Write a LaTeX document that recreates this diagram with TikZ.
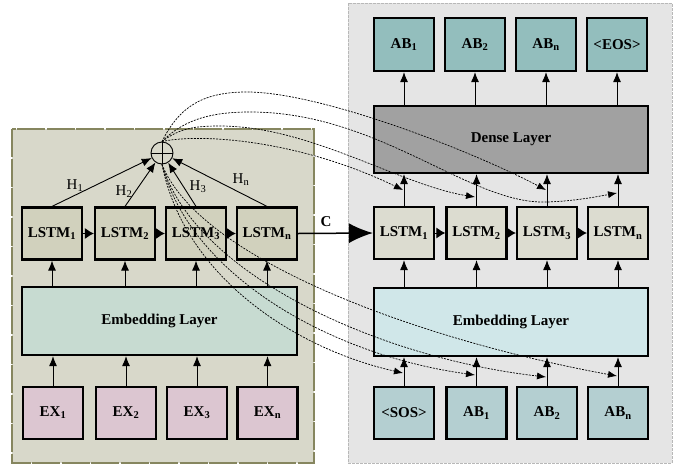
\documentclass[tikz,border=0pt]{standalone}
\usepackage{fontspec}
\setmainfont{Liberation Serif}
\usetikzlibrary{arrows.meta}
\definecolor{leftbg}{HTML}{D8D8CA}
\definecolor{leftborder}{HTML}{86865F}
\definecolor{lstmL}{HTML}{D1D1BD}
\definecolor{embL}{HTML}{C7DBD1}
\definecolor{exfill}{HTML}{DCC6D1}
\definecolor{rightbg}{HTML}{E5E5E5}
\definecolor{rightborder}{HTML}{B8B8B8}
\definecolor{abtop}{HTML}{93BEBD}
\definecolor{densefill}{HTML}{A1A1A1}
\definecolor{lstmR}{HTML}{DCDCD0}
\definecolor{embR}{HTML}{D0E7E9}
\definecolor{bottomR}{HTML}{B4CFD1}
\begin{document}
\begin{tikzpicture}[x=1pt,y=-1pt,
  box/.style={draw=black, line width=2.2pt, minimum width=60pt, minimum height=52pt,
    inner sep=0pt, font=\fontsize{15}{17}\selectfont\bfseries},
  wide/.style={box, minimum width=274pt, minimum height=68pt},
  arr/.style={line width=0.9pt, -{Latex[length=10pt,width=8pt]}},
  chainarr/.style={line width=1pt, -{Latex[length=9pt,width=11pt]}},
  darr/.style={line width=0.7pt, dash pattern=on 2pt off 1.2pt, -{Latex[length=9pt,width=7pt]}},
  hlabel/.style={font=\fontsize{15}{17}\selectfont}
]
\useasboundingbox (0,0) rectangle (679,466);
% panels
\fill[white] (0,0) rectangle (679,466);
\draw[fill=rightbg, draw=rightborder, line width=0.9pt, dash pattern=on 3pt off 1pt] (348,3) rectangle (672,463);
\draw[fill=leftbg, draw=leftborder, line width=1.8pt, dash pattern=on 28pt off 1.5pt] (12,129) rectangle (314,463);

% left encoder
\node[box, fill=lstmL] (l1) at (52,233.5) {LSTM\textsubscript{1}};
\node[box, fill=lstmL] (l2) at (125,233.5) {LSTM\textsubscript{2}};
\node[box, fill=lstmL] (l3) at (196,233.5) {LSTM\textsubscript{3}};
\node[box, fill=lstmL] (l4) at (267,233.5) {LSTM\textsubscript{n}};
\node[wide, fill=embL, minimum width=275pt] (le) at (159.5,321) {Embedding Layer};
\node[box, fill=exfill] (x1) at (53,413) {EX\textsubscript{1}};
\node[box, fill=exfill] (x2) at (126,413) {EX\textsubscript{2}};
\node[box, fill=exfill] (x3) at (197,413) {EX\textsubscript{3}};
\node[box, fill=exfill] (x4) at (267.5,413) {EX\textsubscript{n}};
\node[circle, draw=black, line width=0.9pt, minimum size=22pt, inner sep=0pt] (op) at (162,153) {};
\draw[line width=0.9pt] (op.north) -- (op.south) (op.west) -- (op.east);

\foreach \i in {1,2,3,4}{
  \draw[arr] (x\i.north) -- (le.south -| x\i.north);
  \draw[arr] (le.north -| l\i.south) -- (l\i.south);
}
\draw[chainarr] (l1.east) -- (l2.west);
\draw[chainarr] (l2.east) -- (l3.west);
\draw[chainarr] (l3.east) -- (l4.west);

% H arrows
\draw[arr] (l1.north) -- (op);
\draw[arr] (l2.north) -- (op);
\draw[arr] (l3.north) -- (op);
\draw[arr] (l4.north) -- (op);
\node[hlabel] (h1) at (75,186) {H\textsubscript{1}};
\node[hlabel] (h2) at (124,192) {H\textsubscript{2}};
\node[hlabel] (h3) at (198,187) {H\textsubscript{3}};
\node[hlabel] (h4) at (241,180) {H\textsubscript{n}};

% right decoder
\node[box, fill=abtop, minimum height=53pt] (t1) at (404,44.5) {AB\textsubscript{1}};
\node[box, fill=abtop, minimum height=53pt] (t2) at (475,44.5) {AB\textsubscript{2}};
\node[box, fill=abtop, minimum height=53pt] (t3) at (546,44.5) {AB\textsubscript{n}};
\node[box, fill=abtop, minimum height=53pt] (t4) at (617,44.5) {<EOS>};
\node[wide, fill=densefill, minimum height=67pt] (dense) at (511,139.5) {Dense Layer};
\node[box, fill=lstmR] (r1) at (404,233) {LSTM\textsubscript{1}};
\node[box, fill=lstmR] (r2) at (476.5,233) {LSTM\textsubscript{2}};
\node[box, fill=lstmR] (r3) at (547,233) {LSTM\textsubscript{3}};
\node[box, fill=lstmR] (r4) at (618,233) {LSTM\textsubscript{n}};
\node[wide, fill=embR] (re) at (511,322) {Embedding Layer};
\node[box, fill=bottomR] (b1) at (404,413) {<SOS>};
\node[box, fill=bottomR] (b2) at (476.5,413) {AB\textsubscript{1}};
\node[box, fill=bottomR] (b3) at (547,413) {AB\textsubscript{2}};
\node[box, fill=bottomR] (b4) at (618,413) {AB\textsubscript{n}};

\draw[arr] (dense.north -| t1.south) -- (t1.south);
\draw[arr] (dense.north -| t2.south) -- (t2.south);
\draw[arr] (dense.north -| t3.south) -- (t3.south);
\draw[arr] (dense.north -| t4.south) -- (t4.south);
\foreach \i in {1,2,3,4}{
  \draw[arr] (r\i.north) -- (dense.south -| r\i.north);
  \draw[arr] (re.north -| r\i.south) -- (r\i.south);
  \draw[arr] (b\i.north) -- (re.south -| b\i.north);
}
\draw[chainarr] (r1.east) -- (r2.west);
\draw[chainarr] (r2.east) -- (r3.west);
\draw[chainarr] (r3.east) -- (r4.west);

% context vector
\draw[line width=1.5pt, -{Latex[length=24pt,width=20pt]}] (l4.east) -- (r1.west);
\node[font=\fontsize{15}{17}\selectfont\bfseries] (clabel) at (326,222) {C};

% attention targets
\coordinate (e1) at (403,190);
\coordinate (e2) at (475,197);
\coordinate (e3) at (546,190);
\coordinate (e4) at (617,193);
\coordinate (s1) at (403,373);
\coordinate (s2) at (475,375);
\coordinate (s3) at (546,377);
\coordinate (s4) at (617,376);

\draw[darr] (op.north) .. controls (180,105) and (205,92) .. (247,92)
  .. controls (320,92) and (470,150) .. (e3);
\draw[darr] (op.north) .. controls (185,118) and (215,112) .. (250,112)
  .. controls (380,112) and (470,205) .. (547,202)
  .. controls (575,201) and (595,197) .. (e4);
\draw[darr] (op.north) .. controls (180,128) and (195,126) .. (220,126)
  .. controls (310,126) and (400,185) .. (e2);
\draw[darr] (op.north) .. controls (200,133) and (300,140) .. (e1);

\draw[darr] (op.south) .. controls (185,280) and (300,350) .. (s1);
\draw[darr] (op.south) .. controls (190,275) and (330,355) .. (s2);
\draw[darr] (op.south) .. controls (195,275) and (380,358) .. (s3);
\draw[darr] (op.south) .. controls (200,260) and (420,340) .. (s4);
\end{tikzpicture}
\end{document}
